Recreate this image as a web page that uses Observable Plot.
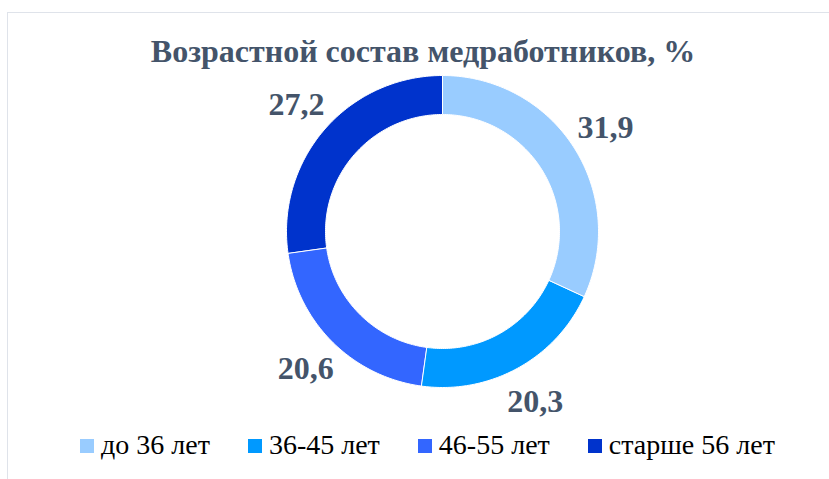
<!DOCTYPE html>
<html>
<head>
<meta charset="utf-8">
<script src="https://cdn.jsdelivr.net/npm/d3@7"></script>
<script src="https://cdn.jsdelivr.net/npm/@observablehq/plot@0.6"></script>
<style>
  html, body { margin: 0; padding: 0; background: #fff; }
  #page { position: relative; width: 829px; height: 479px; overflow: hidden; }
  #frame { position: absolute; left: 7px; top: 12px; width: 840px; height: 480px;
           border-top: 1.5px solid #dfe3ea; border-left: 1.5px solid #dfe3ea; }
  #title { position: absolute; left: 0; width: 846px; top: 33px; text-align: center;
           font-family: "Liberation Serif", serif; font-weight: bold; font-size: 32px; color: #44546A;
           line-height: 36px; white-space: nowrap; }
  #chart { position: absolute; left: 0; top: 70px; }
  #legend { position: absolute; top: 429px; left: 80px; display: flex; align-items: center;
            font-size: 28px; color: #000; white-space: nowrap; }
  .item { display: flex; align-items: center; margin-right: 38px; }
  .item span { font-family: "Times New Roman", "Liberation Serif", serif; }
  .sw { width: 14px; height: 14px; margin-right: 7px; margin-top: 2px; }
</style>
</head>
<body>
<div id="page">
  <div id="frame"></div>
  <div id="title">Возрастной состав медработников, %</div>
  <div id="chart"></div>
  <div id="legend"></div>
</div>
<script>
// ---- data ----
const categories = ["до 36 лет", "36-45 лет", "46-55 лет", "старше 56 лет"];
const values = [31.9, 20.3, 20.6, 27.2];
const colors = ["#99CCFF", "#0099FF", "#3366FF", "#0033CC"];

// ---- build ring geometry from values (angles measured clockwise from 12 o'clock) ----
const innerRatio = 0.75;
const total = d3.sum(values);
let acc = 0;
const slices = categories.map((c, i) => {
  const a0 = acc / total * 2 * Math.PI;
  acc += values[i];
  const a1 = acc / total * 2 * Math.PI;
  return {category: c, value: values[i], a0, a1, mid: (a0 + a1) / 2};
});
const ringPoints = [];
for (const s of slices) {
  const n = Math.max(8, Math.ceil((s.a1 - s.a0) / (Math.PI / 180)));
  const outer = d3.range(n + 1).map(k => s.a0 + (s.a1 - s.a0) * k / n);
  for (const a of outer) ringPoints.push({category: s.category, x: Math.sin(a), y: Math.cos(a)});
  for (const a of outer.slice().reverse()) ringPoints.push({category: s.category, x: innerRatio * Math.sin(a), y: innerRatio * Math.cos(a)});
}
const labelR = 1.24;
const labels = slices.map(s => ({
  category: s.category,
  text: s.value.toFixed(1).replace(".", ","),
  x: labelR * Math.sin(s.mid),
  y: labelR * Math.cos(s.mid)
}));

// ---- plot ----
const cx = 442, cy = 161, R = 156;
const chart = Plot.plot({
  width: 829,
  height: 360,
  margin: 0,
  x: {domain: [-1, 1], range: [cx - R, cx + R], axis: null},
  y: {domain: [-1, 1], range: [cy + R, cy - R], axis: null},
  color: {domain: categories, range: colors},
  marks: [
    Plot.line(ringPoints, {x: "x", y: "y", z: "category", fill: "category", stroke: "white", strokeWidth: 1, curve: "linear-closed"}),
    Plot.text(labels, {x: "x", y: "y", text: "text", fill: "#44546A",
      fontSize: 32, fontWeight: "bold", fontFamily: "Liberation Serif, serif"})
  ]
});
document.getElementById("chart").appendChild(chart);

// ---- legend ----
const legend = document.getElementById("legend");
categories.forEach((c, i) => {
  const item = document.createElement("div");
  item.className = "item";
  const sw = document.createElement("div");
  sw.className = "sw";
  sw.style.background = colors[i];
  const t = document.createElement("span");
  t.textContent = c;
  item.appendChild(sw);
  item.appendChild(t);
  legend.appendChild(item);
});
</script>
</body>
</html>
